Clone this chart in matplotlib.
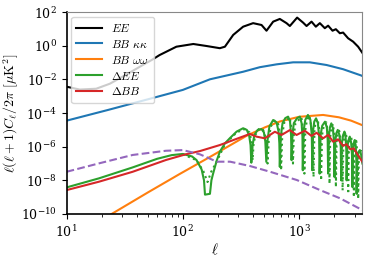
import numpy as np
import matplotlib
matplotlib.use("Agg")
import matplotlib.pyplot as plt
from matplotlib.ticker import NullLocator

plt.rcParams['mathtext.fontset'] = 'cm'
plt.rcParams['font.family'] = 'DejaVu Serif'

# values, stored as log10 of l(l+1)C_l/2pi
ell_ee = [10, 13, 18, 23.6, 32.8, 45, 54, 63, 88, 123, 160, 208, 230, 271, 330, 402, 475, 524,
          598, 682, 779, 832, 961, 1082, 1158, 1278, 1392, 1507, 1663, 1775, 1937, 2068, 2239,
          2389, 2638, 2912, 3215, 3500]
log_ee = [-2.43, -2.60, -2.55, -2.25, -1.70, -1.15, -0.84, -0.55, -0.05, 0.11, -0.01, -0.14, -0.05,
          0.65, 1.14, 1.35, 1.24, 0.90, 1.44, 1.60, 1.35, 1.18, 1.68, 1.38, 1.18, 1.44, 1.14, 1.35,
          1.05, 1.20, 0.90, 0.99, 0.75, 0.79, 0.45, 0.25, -0.05, -0.42]

ell_bbkk = [10, 22.5, 50, 100, 171, 330, 459, 640, 888, 1236, 1722, 2389, 3441, 3500]
log_bbkk = [-4.45, -3.82, -3.18, -2.62, -1.99, -1.54, -1.27, -1.10, -0.98, -0.98, -1.14, -1.39,
            -1.77, -1.80]

ell_bbww = [20, 24.4, 50, 94, 182, 353, 507, 682, 1000, 1607, 2200, 2800, 3500]
log_bbww = [-10.35, -10.0, -8.72, -7.62, -6.50, -5.35, -4.85, -4.50, -4.22, -4.11, -4.25, -4.45,
            -4.72]

ell_dbb = [10, 19, 37, 71.5, 106, 140, 208, 309, 377, 430, 507, 618, 706, 832, 950, 1119, 1278,
           1412, 1607, 1775, 1959, 2163, 2389, 2550, 2750, 2950, 3200, 3500]
log_dbb = [-8.58, -8.08, -7.49, -6.79, -6.45, -6.26, -5.90, -5.46, -5.24, -5.40, -5.50, -5.11,
           -5.30, -5.01, -5.30, -5.05, -5.36, -5.17, -5.50, -5.30, -5.70, -5.56, -5.95, -5.85,
           -6.15, -6.10, -6.50, -6.90]

ell_dee = [10, 19, 37, 60, 80, 100, 120, 131, 145, 152, 155,
           171, 176, 182, 195, 208, 230, 253, 290, 330, 355, 372, 382, 388,
           398, 412, 440, 475, 498, 512, 522,
           535, 555, 598, 640, 665, 676, 682,
           695, 720, 760, 804, 835, 852, 861,
           875, 900, 960, 1015, 1050, 1068, 1075,
           1095, 1130, 1190, 1250, 1285, 1297,
           1320, 1350, 1398, 1450, 1485, 1500,
           1530, 1580, 1668, 1730, 1760, 1775,
           1800, 1840, 1891, 1950, 1995, 2012,
           2045, 2090, 2147, 2220, 2280, 2300,
           2330, 2390, 2454, 2510, 2545, 2560,
           2600, 2660, 2725, 2800, 2850, 2870,
           2900, 2950, 3008, 3070, 3105, 3120,
           3160, 3250, 3330, 3420, 3500]
log_dee = [-8.42, -7.88, -7.23, -6.72, -6.50, -6.43, -6.58, -6.79, -7.35, -8.0, -8.85,
           -8.8, -8.0, -7.6, -6.85, -6.30, -5.80, -5.50, -5.10, -4.90, -5.0, -5.35, -5.9, -6.95,
           -5.9, -5.3, -5.0, -4.95, -5.15, -5.7, -6.9,
           -5.6, -4.8, -4.41, -4.55, -5.1, -5.8, -7.2,
           -5.4, -4.6, -4.3, -4.21, -4.5, -5.3, -6.8,
           -5.3, -4.6, -4.3, -4.21, -4.6, -5.4, -7.4,
           -5.0, -4.4, -4.11, -4.4, -5.3, -7.4,
           -5.0, -4.5, -4.31, -4.6, -5.4, -7.6,
           -5.3, -4.75, -4.51, -4.85, -5.6, -7.6,
           -5.4, -4.85, -4.61, -4.9, -5.7, -7.8,
           -5.7, -5.2, -5.0, -5.3, -6.0, -8.0,
           -5.8, -5.3, -5.1, -5.45, -6.2, -8.0,
           -6.0, -5.6, -5.4, -5.75, -6.5, -8.4,
           -6.3, -5.8, -5.6, -6.0, -6.8, -8.8,
           -6.8, -6.3, -6.2, -6.5, -7.0]

ell_dee_alt = [100, 131, 150, 163, 175, 195, 230, 290, 340, 375, 392, 398,
               405, 420, 450, 490, 520, 535,
               548, 570, 615, 660, 690, 700,
               715, 740, 830, 870, 885,
               900, 930, 1045, 1095, 1110,
               1130, 1165, 1225, 1310, 1330,
               1355, 1385, 1440, 1525, 1545,
               1575, 1625, 1715, 1805, 1825,
               1850, 1895, 1950, 2050, 2070,
               2100, 2150, 2210, 2340, 2365,
               2400, 2460, 2525, 2620, 2640,
               2680, 2740, 2810, 2930, 2955,
               2990, 3040, 3100, 3200, 3220,
               3260, 3350, 3430, 3500]
log_dee_alt = [-6.45, -6.8, -7.45, -8.1, -7.5, -6.9, -5.85, -5.15, -4.95, -5.15, -5.8, -6.8,
               -5.9, -5.3, -4.95, -5.0, -5.5, -7.0,
               -5.6, -4.8, -4.45, -4.65, -5.4, -7.4,
               -5.4, -4.6, -4.25, -5.2, -7.0,
               -5.3, -4.6, -4.25, -5.3, -7.6,
               -5.0, -4.45, -4.15, -5.3, -7.8,
               -5.0, -4.55, -4.35, -5.4, -8.0,
               -5.3, -4.8, -4.55, -5.6, -8.2,
               -5.4, -4.9, -4.65, -5.7, -8.4,
               -5.7, -5.25, -5.05, -6.0, -8.6,
               -5.8, -5.35, -5.15, -6.2, -8.8,
               -6.0, -5.65, -5.45, -6.5, -9.0,
               -6.3, -5.85, -5.65, -6.8, -9.1,
               -6.8, -6.3, -6.25, -6.6]

ell_sys = [10, 19, 37, 71.5, 100, 140, 196, 255, 379, 563, 955, 1514, 2251, 3500]
log_sys = [-7.49, -6.99, -6.49, -6.24, -6.20, -6.45, -6.89, -6.89, -7.15, -7.49, -7.98, -8.58,
           -9.07, -9.77]


def pw(v):
    return 10.0 ** np.array(v)


fig = plt.figure(figsize=(3.74, 2.6), dpi=100)
ax = fig.add_axes([0.178, 0.177, 0.791, 0.776])

ax.plot(ell_ee, pw(log_ee), color='k', lw=1.5, label=r'$EE$')
ax.plot(ell_bbkk, pw(log_bbkk), color='C0', lw=1.5, label=r'$BB\ \kappa\kappa$')
ax.plot(ell_bbww, pw(log_bbww), color='C1', lw=1.5, label=r'$BB\ \omega\omega$')
ax.plot(ell_dee_alt, pw(log_dee_alt), color='C2', lw=1.5, ls=':')
ax.plot(ell_dee, pw(log_dee), color='C2', lw=1.5, label=r'$\Delta EE$')
ax.plot(ell_dbb, pw(log_dbb), color='C3', lw=1.5, label=r'$\Delta BB$')
ax.plot(ell_sys, pw(log_sys), color='C4', lw=1.5, ls='--')

ax.set_xscale('log')
ax.set_yscale('log')
ax.set_xlim(10, 3500)
ax.set_ylim(1e-10, 1e2)
ax.set_yticks([10.0 ** k for k in range(-10, 3, 2)])
ax.yaxis.set_minor_locator(NullLocator())

ax.tick_params(labelsize=9, direction='out', length=3.5, width=0.8)
ax.tick_params(which='minor', length=2, width=0.6)
for s in ['top', 'right']:
    ax.spines[s].set_color('#888888')
    ax.spines[s].set_linewidth(0.8)
for s in ['left', 'bottom']:
    ax.spines[s].set_linewidth(1.2)

ax.set_xlabel(r'$\ell$', fontsize=10.5, labelpad=2)
ax.set_ylabel(r'$\ell(\ell+1)C_\ell/2\pi\ [\mu{\rm K}^2]$', fontsize=10, labelpad=0)

ax.legend(loc='upper left', fontsize=8.5, handlelength=2.2, borderaxespad=0.4,
          labelspacing=0.25, framealpha=0.8)

fig.savefig('out.png', dpi=100)
